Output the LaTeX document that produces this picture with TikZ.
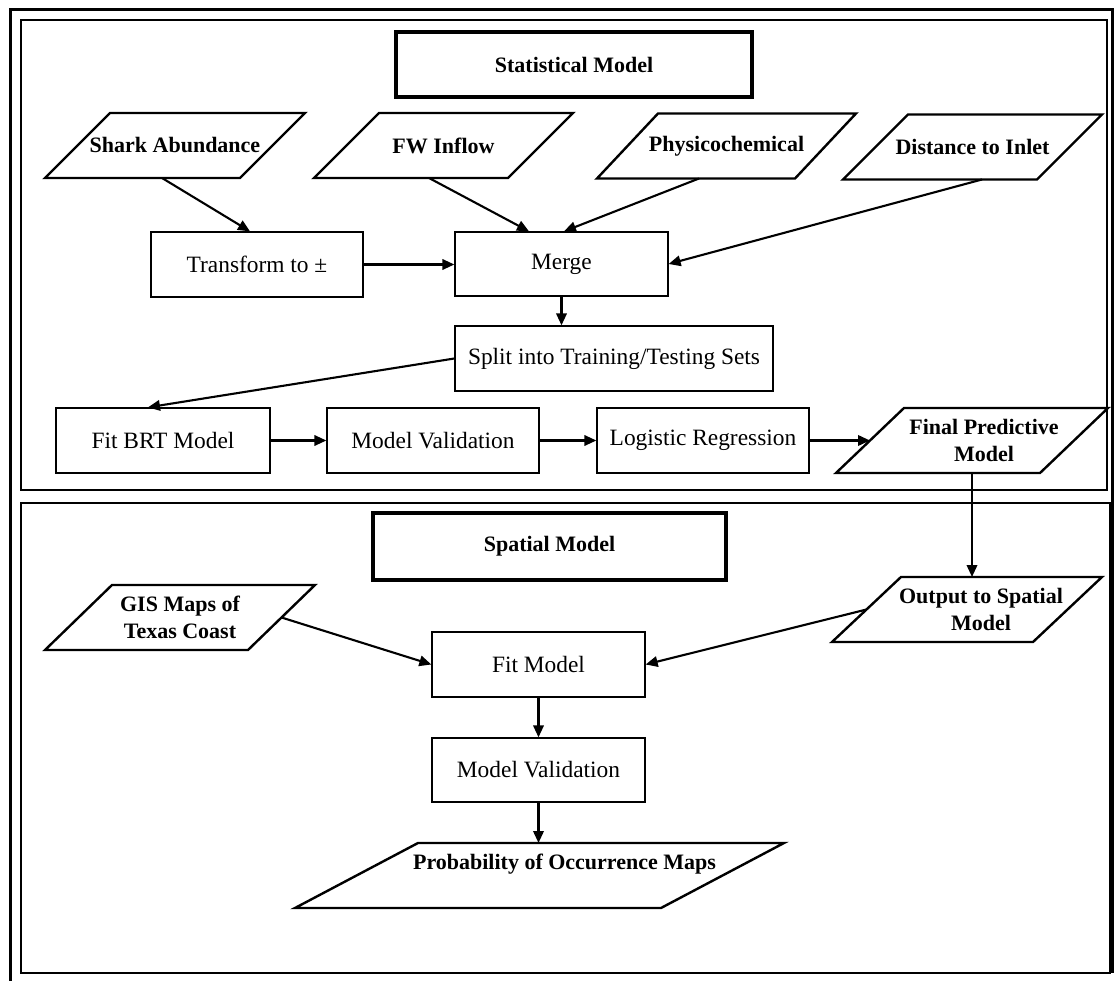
\documentclass[tikz,border=0pt]{standalone}
\usepackage{fontspec}
\setmainfont{Liberation Serif}
\usetikzlibrary{arrows.meta}
\newcommand{\paraoutline}[2]{%
  \draw[paraline] (#1.south west) -- ([xshift=-#2pt]#1.south east) -- (#1.north east)
    -- ([xshift=#2pt]#1.north west) -- cycle;}
\begin{document}
\begin{tikzpicture}[x=1pt,y=-1pt,
  proc/.style={draw, line width=1.3pt, rectangle, minimum height=65pt, inner sep=0pt,
    font=\fontsize{23.4}{28}\selectfont},
  io/.style={rectangle, minimum height=65pt, inner sep=0pt, outer sep=0pt,
    align=center, font=\bfseries\fontsize{22}{27}\selectfont},
  paraline/.style={line width=2.4pt, line join=miter},
  titlebox/.style={draw, line width=4pt, rectangle, minimum height=65pt,
    font=\bfseries\fontsize{22}{27}\selectfont},
  frame/.style={line width=1.5pt},
  arr/.style={line width=2.1pt, -{Triangle[length=12pt,width=10.5pt]}}
]
\useasboundingbox (0,0) rectangle (1114,981);
% frames
\draw[line width=3pt] (10.5,981) -- (10.5,9.5) -- (1112.5,9.5) -- (1112.5,973);
\draw[frame] (21,20) rectangle (1107,490);
\draw[frame] (21,503) rectangle (1110,973);

% statistical model
\node[titlebox, minimum width=356pt] (stat) at (574,64.5) {Statistical Model};
\node[io, minimum width=260pt] (shark) at (175,145.5) {Shark Abundance};
\node[io, minimum width=259pt] (fw) at (443.5,145.5) {FW Inflow};
\node[io, minimum width=259pt] (phys) at (726.5,146) {Physicochemical};
\node[io, minimum width=259pt] (dist) at (972.5,147) {Distance to Inlet};
\paraoutline{shark}{65}
\paraoutline{fw}{65}
\paraoutline{phys}{61}
\paraoutline{dist}{65}
\node[proc, minimum width=212pt] (trans) at (257,264.5) {Transform to ±};
\node[proc, minimum width=213pt, minimum height=64pt] (merge) at (561.5,264) {Merge};
\node[proc, minimum width=318pt] (split) at (614,358.5) {Split into Training/Testing Sets};
\node[proc, minimum width=214pt] (brt) at (163,440.5) {Fit BRT Model};
\node[proc, minimum width=212pt] (mv) at (433,440.5) {Model Validation};
\node[proc, minimum width=212pt] (lr) at (703,440.5) {Logistic Regression};
\node[io, minimum width=272pt] (fpm) at (972,440.5) {\hspace*{24pt}Final Predictive\\\hspace*{24pt}Model};
\paraoutline{fpm}{68}

% spatial model
\node[titlebox, minimum width=353pt, minimum height=67pt] (spat) at (549.5,546.5) {Spatial Model};
\node[io, minimum width=270pt] (gis) at (180,617.5) {GIS Maps of\\Texas Coast};
\node[io, minimum width=270pt] (out) at (967,609.5) {\hspace*{28pt}Output to Spatial\\\hspace*{28pt}Model};
\paraoutline{gis}{67}
\paraoutline{out}{69}
\node[proc, minimum width=213pt] (fit) at (538.5,664.5) {Fit Model};
\node[proc, minimum width=213pt, minimum height=64pt] (mv2) at (538.5,770) {Model Validation};
\node[io, minimum width=489pt] (prob) at (539.5,875.5) {\hspace*{50pt}Probability of Occurrence Maps\\\mbox{}};
\paraoutline{prob}{123}

% connectors
\draw[arr] ([xshift=-13pt]shark.south) -- ([xshift=-7pt]trans.north);
\draw[arr] ([xshift=-14.5pt]fw.south) -- ([xshift=-32.5pt]merge.north);
\draw[arr] ([xshift=-27.5pt]phys.south) -- ([xshift=2.5pt]merge.north);
\draw[arr] ([xshift=9.5pt]dist.south) -- (merge.east);
\draw[arr] (trans.east) -- (trans.east -| merge.west);
\draw[arr] (merge.south) -- (merge.south |- split.north);
\draw[arr] (split.west) -- ([xshift=-15pt]brt.north);
\draw[arr] (brt.east) -- (mv.west);
\draw[arr] (mv.east) -- (lr.west);
\draw[arr] (lr.east) -- ([xshift=34pt]fpm.west);
\draw[arr] (fpm.south) -- (fpm.south |- out.north);
\draw[arr] ([xshift=-33.5pt]gis.east) -- (fit.west);
\draw[arr] ([xshift=34.5pt]out.west) -- (fit.east);
\draw[arr] (fit.south) -- (mv2.north);
\draw[arr] (mv2.south) -- (mv2.south |- prob.north);
\end{tikzpicture}
\end{document}
